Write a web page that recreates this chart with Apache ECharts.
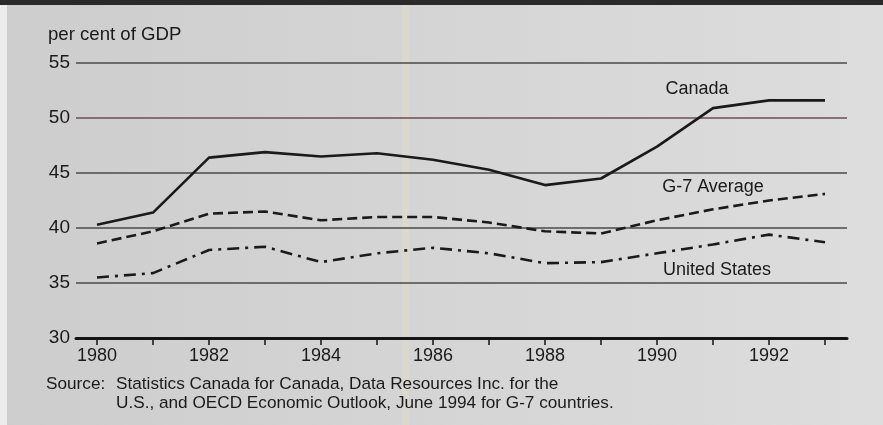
<!DOCTYPE html>
<html>
<head>
<meta charset="utf-8">
<script src="https://cdn.jsdelivr.net/npm/echarts@6/dist/echarts.min.js"></script>
<style>
html,body{margin:0;padding:0;background:#d4d4d4;}
#chart{width:883px;height:425px;}
</style>
</head>
<body>
<div id="chart"></div>
<script>
// ---- data ----
var years = [1980, 1981, 1982, 1983, 1984, 1985, 1986, 1987, 1988, 1989, 1990, 1991, 1992, 1993];
var canada = [40.3, 41.4, 46.4, 46.9, 46.5, 46.8, 46.2, 45.3, 43.9, 44.5, 47.4, 50.9, 51.6, 51.6];
var g7Average = [38.6, 39.7, 41.3, 41.5, 40.7, 41.0, 41.0, 40.5, 39.7, 39.5, 40.7, 41.7, 42.5, 43.1];
var unitedStates = [35.5, 35.9, 38.0, 38.3, 36.9, 37.7, 38.2, 37.7, 36.8, 36.9, 37.7, 38.5, 39.4, 38.7];
var yTicks = [30, 35, 40, 45, 50, 55];
var seriesNames = ['Canada', 'G-7 Average', 'United States'];
var yTitle = 'per cent of GDP';
var sourceLabel = 'Source:';
var sourceLine1 = 'Statistics Canada for Canada, Data Resources Inc. for the';
var sourceLine2 = 'U.S., and OECD Economic Outlook, June 1994 for G-7 countries.';

function pairs(vals) { return years.map(function (y, i) { return [y, vals[i]]; }); }

var FONT = '"Liberation Sans", Arial, Helvetica, sans-serif';
var INK = '#1a1a1a';

var chart = echarts.init(document.getElementById('chart'), null, {renderer: 'canvas'});
var option = {
  animation: false,
  backgroundColor: {
    type: 'linear', x: 0, y: 0, x2: 1, y2: 0,
    colorStops: [{offset: 0, color: '#cdcdcd'}, {offset: 0.5, color: '#d5d5d5'}, {offset: 1, color: '#dddddd'}]
  },
  textStyle: {fontFamily: FONT},
  grid: [
    {left: 76, right: 36, top: 63, bottom: 87},
    {left: 97, right: 58, top: 63, bottom: 87}
  ],
  xAxis: [
    {
      gridIndex: 0, type: 'value', min: 0, max: 1,
      axisLine: {show: true, lineStyle: {color: '#151515', width: 3}},
      axisTick: {show: false}, axisLabel: {show: false}, splitLine: {show: false}
    },
    {
      gridIndex: 1, type: 'value', min: years[0], max: years[years.length - 1], interval: 1,
      axisLine: {show: false},
      axisTick: {show: true, length: 7, lineStyle: {color: '#151515', width: 1.5}},
      axisLabel: {
        show: true, margin: 9, fontSize: 18, color: INK, fontFamily: FONT,
        formatter: function (v) { return v % 2 === 0 ? String(v) : ''; }
      },
      splitLine: {show: false}
    }
  ],
  yAxis: [
    {
      gridIndex: 0, type: 'value', min: yTicks[0], max: yTicks[yTicks.length - 1], interval: 5,
      axisLine: {show: false}, axisTick: {show: false},
      axisLabel: {show: true, margin: 6, fontSize: 19, color: INK, fontFamily: FONT},
      splitLine: {show: true, lineStyle: {color: ['#4a4a4a', '#4a4a4a', '#4a4a4a', '#4a4a4a', '#6a5058', '#4a4a4a'], width: 1.5}}
    },
    {
      gridIndex: 1, type: 'value', min: yTicks[0], max: yTicks[yTicks.length - 1], interval: 5,
      show: false
    }
  ],
  series: [
    {
      name: seriesNames[0], type: 'line', xAxisIndex: 1, yAxisIndex: 1,
      data: pairs(canada), showSymbol: false, symbol: 'none',
      lineStyle: {color: INK, width: 2.6, type: 'solid'}
    },
    {
      name: seriesNames[1], type: 'line', xAxisIndex: 1, yAxisIndex: 1,
      data: pairs(g7Average), showSymbol: false, symbol: 'none',
      lineStyle: {color: INK, width: 2.6, type: [10, 5]}
    },
    {
      name: seriesNames[2], type: 'line', xAxisIndex: 1, yAxisIndex: 1,
      data: pairs(unitedStates), showSymbol: false, symbol: 'none',
      lineStyle: {color: INK, width: 2.6, type: [12, 6, 3, 6]}
    }
  ],
  graphic: [
    {type: 'rect', left: 0, top: 0, shape: {width: 883, height: 5}, style: {fill: '#2a2a2a'}, z: -1},
    {type: 'rect', left: 0, top: 5, shape: {width: 7, height: 420}, style: {fill: '#ececec'}, z: -1},
    {type: 'rect', left: 402, top: 5, shape: {width: 7, height: 420}, style: {fill: 'rgba(235,225,195,0.3)'}, z: -1},
    {type: 'text', x: 48, y: 35, style: {text: yTitle, font: '18.6px ' + FONT, fill: INK, textVerticalAlign: 'middle', textAlign: 'left'}},
    {type: 'text', x: 697, y: 89, style: {text: seriesNames[0], font: '18px ' + FONT, fill: INK, textVerticalAlign: 'middle', textAlign: 'center'}},
    {type: 'text', x: 713, y: 187, style: {text: seriesNames[1], font: '18px ' + FONT, fill: INK, textVerticalAlign: 'middle', textAlign: 'center'}},
    {type: 'text', x: 717, y: 270, style: {text: seriesNames[2], font: '18px ' + FONT, fill: INK, textVerticalAlign: 'middle', textAlign: 'center'}},
    {type: 'text', x: 46, y: 384, style: {text: sourceLabel, font: '17.2px ' + FONT, fill: INK, textVerticalAlign: 'middle', textAlign: 'left'}},
    {type: 'text', x: 116, y: 384, style: {text: sourceLine1, font: '17.2px ' + FONT, fill: INK, textVerticalAlign: 'middle', textAlign: 'left'}},
    {type: 'text', x: 116, y: 403, style: {text: sourceLine2, font: '17.2px ' + FONT, fill: INK, textVerticalAlign: 'middle', textAlign: 'left'}}
  ]
};
chart.setOption(option);
</script>
</body>
</html>
